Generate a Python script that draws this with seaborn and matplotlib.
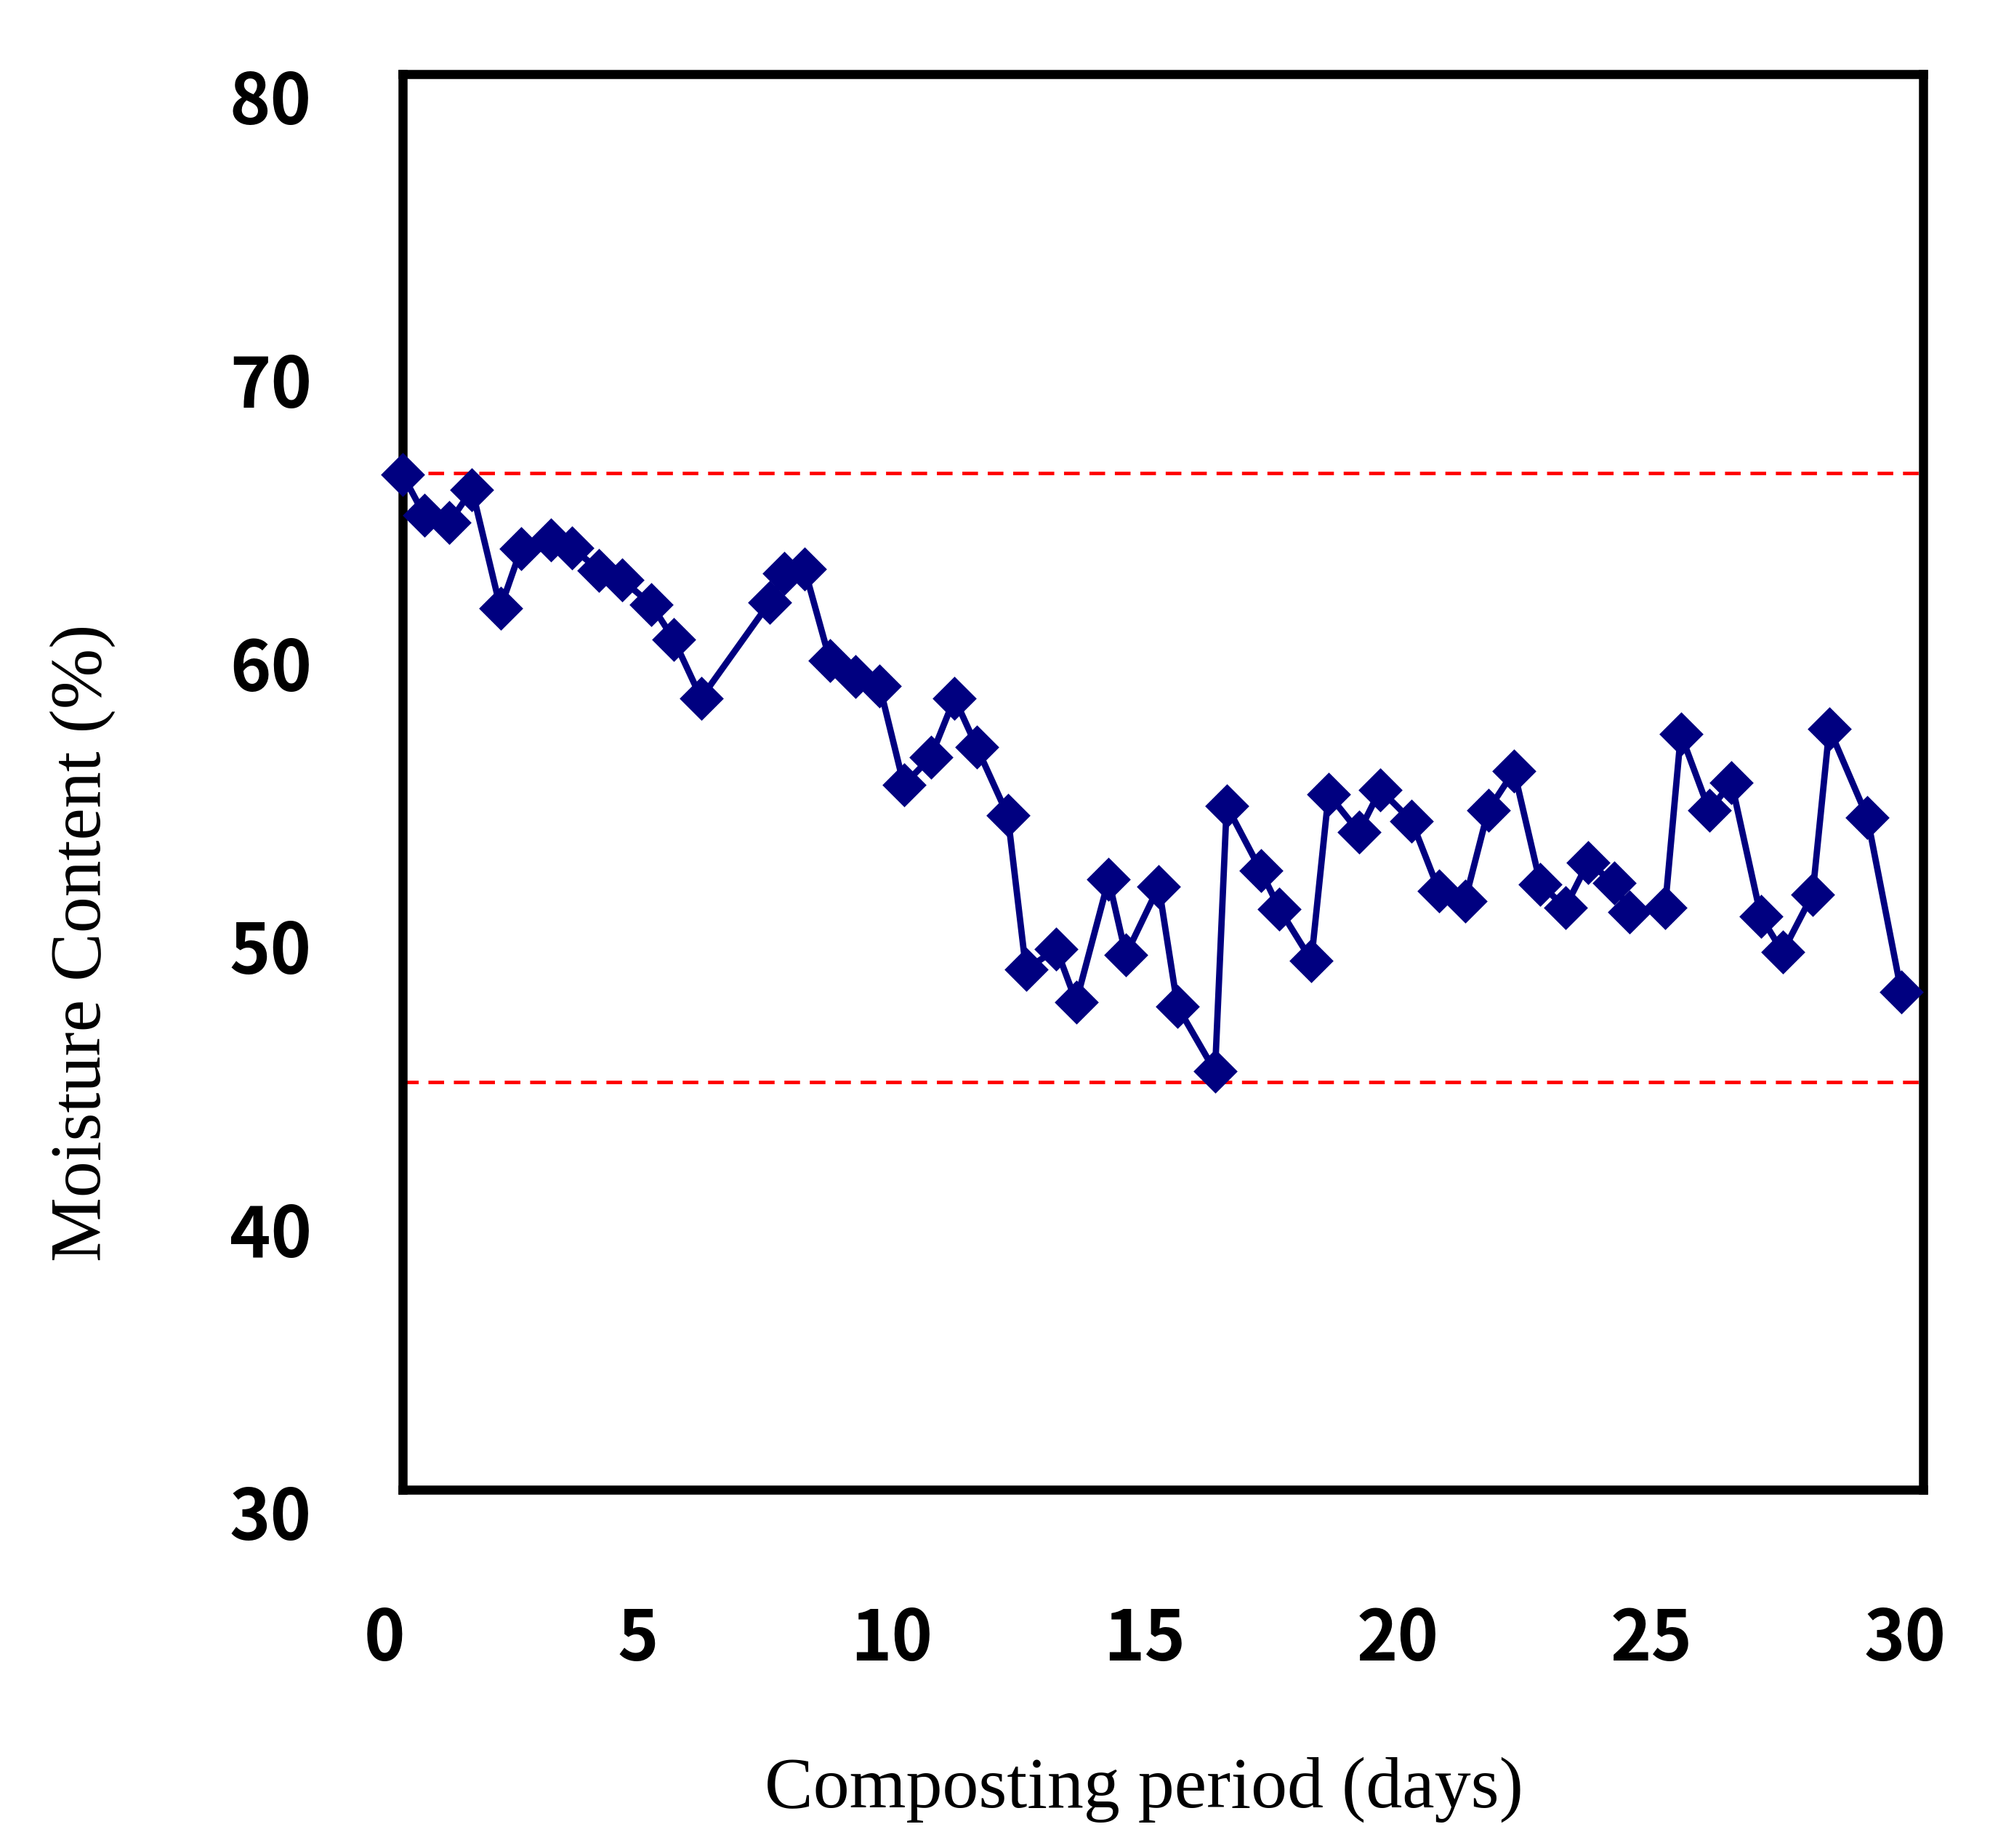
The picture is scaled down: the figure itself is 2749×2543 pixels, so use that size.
import matplotlib
matplotlib.use("Agg")
import matplotlib.pyplot as plt
import matplotlib.transforms as mtransforms
import seaborn as sns

# composting days and moisture content (%)
days = [0.00, 0.43, 0.92, 1.37, 1.93, 2.34, 2.93, 3.34, 3.88, 4.33,
        4.91, 5.35, 5.89, 7.24, 7.53, 7.93, 8.43, 8.94, 9.41, 9.89,
        10.42, 10.89, 11.33, 11.94, 12.30, 12.90, 13.29, 13.93, 14.27, 14.92,
        15.29, 16.03, 16.26, 16.93, 17.30, 17.93, 18.27, 18.87, 19.29, 19.91,
        20.45, 20.96, 21.42, 21.93, 22.45, 22.94, 23.39, 23.90, 24.21, 24.91,
        25.22, 25.78, 26.22, 26.80, 27.23, 27.82, 28.15, 28.90, 29.57]
moisture = [65.85, 64.41, 64.15, 65.32, 61.13, 63.24, 63.53, 63.27, 62.47, 62.14,
            61.25, 60.03, 57.95, 61.33, 62.36, 62.52, 59.29, 58.72, 58.39, 54.89,
            55.86, 57.95, 56.22, 53.81, 48.36, 49.10, 47.22, 51.54, 48.88, 51.30,
            47.06, 44.77, 54.15, 51.87, 50.51, 48.69, 54.56, 53.22, 54.72, 53.61,
            51.14, 50.78, 53.99, 55.38, 51.38, 50.56, 52.15, 51.43, 50.40, 50.56,
            56.68, 53.99, 54.97, 50.24, 48.98, 51.02, 56.87, 53.74, 47.58]
limit_lines = [65.9, 44.4]

x_ticks = [0, 5, 10, 15, 20, 25, 30]
y_ticks = [30, 40, 50, 60, 70, 80]

sns.set_style("white")
plt.rcParams['font.family'] = ['Noto Sans CJK KR', 'DejaVu Sans']
plt.rcParams['text.color'] = 'black'

fig = plt.figure(figsize=(2749 / 300, 2543 / 300), dpi=300)
ax = fig.add_axes([0.2015, 0.194, 0.761, 0.766])

for v in limit_lines:
    ax.axhline(v, color='#ff0000', lw=1.15, ls=(0, (4.5, 2.8)), zorder=1)

sns.lineplot(x=days, y=moisture, ax=ax, color='#000080', lw=2.1,
             marker='D', markersize=9.5, markeredgecolor='#000080',
             markeredgewidth=0.8, clip_on=False, zorder=3)

ax.set_xlim(0, 30)
ax.set_ylim(30, 80)
ax.set_xticks(x_ticks)
ax.set_yticks(y_ticks)

for s in ax.spines.values():
    s.set_visible(True)
    s.set_color('black')
    s.set_linewidth(3.0)

ax.tick_params(axis='both', direction='in', length=6.5, width=0.4,
               colors='black', labelsize=23)
ax.tick_params(axis='x', pad=38)
ax.tick_params(axis='y', pad=30)
for lab in ax.get_xticklabels() + ax.get_yticklabels():
    lab.set_fontweight('bold')

# excel-style label offsets
xoff = mtransforms.ScaledTranslation(-6 / 72, 0, fig.dpi_scale_trans)
yoff = mtransforms.ScaledTranslation(0, -7.5 / 72, fig.dpi_scale_trans)
for lab in ax.get_xticklabels():
    lab.set_transform(lab.get_transform() + xoff)
for lab in ax.get_yticklabels():
    lab.set_transform(lab.get_transform() + yoff)

ax.set_xlabel('')
ax.set_ylabel('')
fig.text(0.5726, 0.0315, 'Composting period (days)', ha='center', va='center',
         family='Liberation Serif', fontsize=24, color='black')
fig.text(0.0415, 0.49, 'Moisture Content (%)', ha='center', va='center',
         rotation=90, family='Liberation Serif', fontsize=24, color='black')

fig.savefig('out.png', dpi=300, facecolor='white')
